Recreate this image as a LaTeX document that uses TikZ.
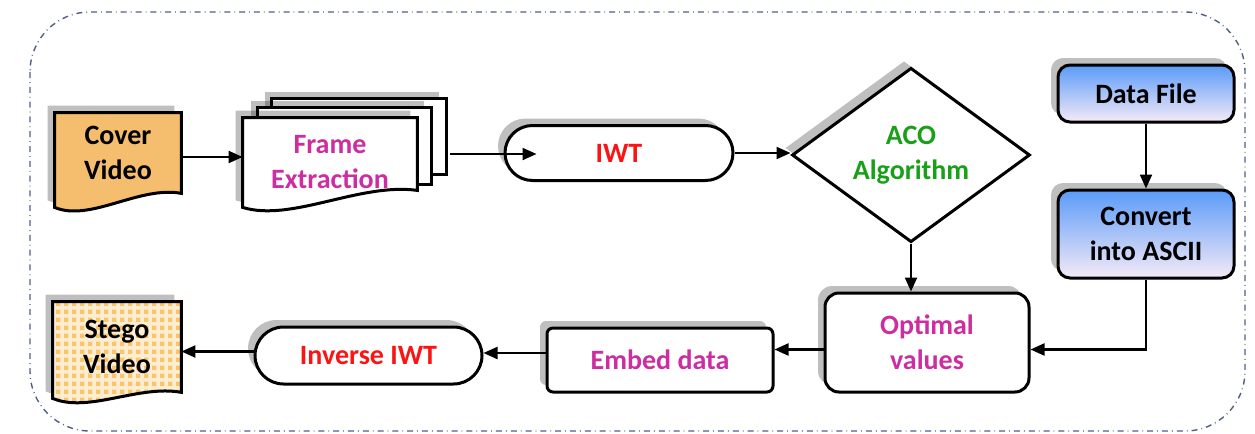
\documentclass[tikz,border=0pt]{standalone}
\usepackage{fontspec}
\setmainfont{Carlito}
\usepackage{xcolor}
\usetikzlibrary{positioning,shapes.geometric,shapes.misc,calc,backgrounds,patterns,arrows.meta}

\definecolor{coverorange}{RGB}{245,190,110}
\definecolor{stegoorange}{RGB}{248,196,108}
\definecolor{stegocream}{RGB}{253,238,210}
\definecolor{textpink}{RGB}{204,45,160}
\definecolor{textred}{RGB}{250,20,20}
\definecolor{textgreen}{RGB}{25,160,25}
\definecolor{fileblue}{RGB}{90,155,248}
\definecolor{filelight}{RGB}{245,234,247}
\definecolor{borderblue}{RGB}{80,95,135}

\pgfdeclarepatternformonly{gingham}{\pgfqpoint{0pt}{0pt}}{\pgfqpoint{4pt}{4pt}}{\pgfqpoint{4pt}{4pt}}{%
  \pgfpathrectangle{\pgfqpoint{0pt}{0pt}}{\pgfqpoint{2.4pt}{2.4pt}}%
  \pgfusepath{fill}}

% document outline round a node, #3 = drop of the lower left corner
\newcommand{\docshape}[3][]{%
  \path[#1] (#2.north west) -- (#2.north east) -- (#2.south east)
    .. controls ($(#2.south east)!0.33!(#2.south west)+(0,-8)$)
    and ($(#2.south west)!0.28!(#2.south east)+(0,#3+15)$)
    .. ($(#2.south west)+(0,#3)$) -- cycle;}

\begin{document}
\begin{tikzpicture}[
		x=0.5pt, y=-0.5pt,
		font=\fontsize{14}{17.5}\selectfont\bfseries,
		shadowed/.style={preaction={fill=black, opacity=0.25, transform canvas={xshift=-3.5pt, yshift=3.5pt}}},
		docnode/.style={rectangle, inner sep=0pt, align=center},
		pillnode/.style={rounded rectangle, draw=black, line width=1.5pt, fill=white, shadowed, inner sep=0pt},
		roundnode/.style={rectangle, rounded corners=#1, draw=black, line width=1.5pt, fill=white, shadowed, align=center, inner sep=0pt},
		roundnode/.default=7pt,
		bluenode/.style={roundnode=6pt, top color=fileblue, bottom color=filelight},
		arrow/.style={line width=1.1pt, -{Triangle[length=7pt, width=6pt]}},
	]
		\useasboundingbox (0,0) rectangle (1255,434);

		% nodes
		\node[docnode, minimum width=63pt, minimum height=40pt] (cover) at (118,153) {Cover\\Video};
		\node[docnode, minimum width=87pt, minimum height=36pt, text=textpink] (frame) at (330,154) {\rule{0pt}{17pt}Frame\\Extraction};
		\node[pillnode, minimum width=114pt, minimum height=27.5pt, text=textred] (iwt) at (619,153) {IWT};
		\node[diamond, draw=black, line width=1.5pt, fill=white, shadowed, minimum width=119pt, minimum height=72pt, inner sep=0pt, align=center, text=textgreen] (aco) at (911,155) {ACO\\Algorithm};
		\node[bluenode, minimum width=88pt, minimum height=28.5pt] (datafile) at (1146,93.5) {Data File};
		\node[bluenode, minimum width=88pt, minimum height=44pt] (convert) at (1146,234) {Convert\\into ASCII};
		\node[roundnode=7pt, minimum width=102pt, minimum height=49.5pt, text=textpink] (optimal) at (927,342.5) {Optimal\\values};
		\node[roundnode=3pt, minimum width=113pt, minimum height=32pt, text=textpink] (embed) at (660,360) {Embed data};
		\node[pillnode, minimum width=113.5pt, minimum height=28.5pt, text=textred] (inverse) at (368.5,355.5) {Inverse IWT};
		\node[docnode, minimum width=64pt, minimum height=45pt] (stego) at (117,347) {Stego\\Video};

		% shapes behind the nodes
		\begin{scope}[on background layer]
			\draw[borderblue, dash dot, line width=0.7pt, rounded corners=30pt] (30,12) rectangle (1245,431);
			\docshape[shadowed, fill=coverorange, draw=black, line width=1.5pt]{cover}{14}
			\draw[shadowed, fill=white, draw=black, line width=1.5pt] ([shift={(29,-19)}]frame.north west) rectangle ([shift={(29,57)}]frame.north east);
			\draw[shadowed, fill=white, draw=black, line width=1.5pt] ([shift={(15,-10)}]frame.north west) rectangle ([shift={(14,67)}]frame.north east);
			\docshape[shadowed, fill=white, draw=black, line width=1.5pt]{frame}{17}
			\docshape[shadowed, preaction={fill=stegocream}, pattern=gingham, pattern color=stegoorange, draw=black, line width=1.5pt]{stego}{6}
		\end{scope}

		% lines
		\draw[arrow] ([yshift=-2pt]cover.east) -- ([yshift=-2pt]cover.east -| frame.west);
		\draw[arrow] ([xshift=16.5pt]frame.east) -- ([xshift=16.5pt]frame.east -| iwt.west);
		\draw[arrow] (iwt.east) -- (iwt.east -| aco.west);
		\draw[arrow] (aco.south) -- (aco.south |- optimal.north);
		\draw[arrow] (datafile.south) -- (convert.north);
		\draw[arrow] (convert.south) |- ([yshift=-3.5pt]optimal.east);
		\draw[arrow] ([yshift=-3.5pt]optimal.west) -- ([yshift=-3.5pt]optimal.west -| embed.east);
		\draw[arrow] ([yshift=3.5pt]embed.west) -- ([yshift=3.5pt]embed.west -| inverse.east);
		\draw[arrow] ([yshift=2pt]inverse.west) -- ([yshift=2pt]inverse.west -| stego.east);
	\end{tikzpicture}
\end{document}
